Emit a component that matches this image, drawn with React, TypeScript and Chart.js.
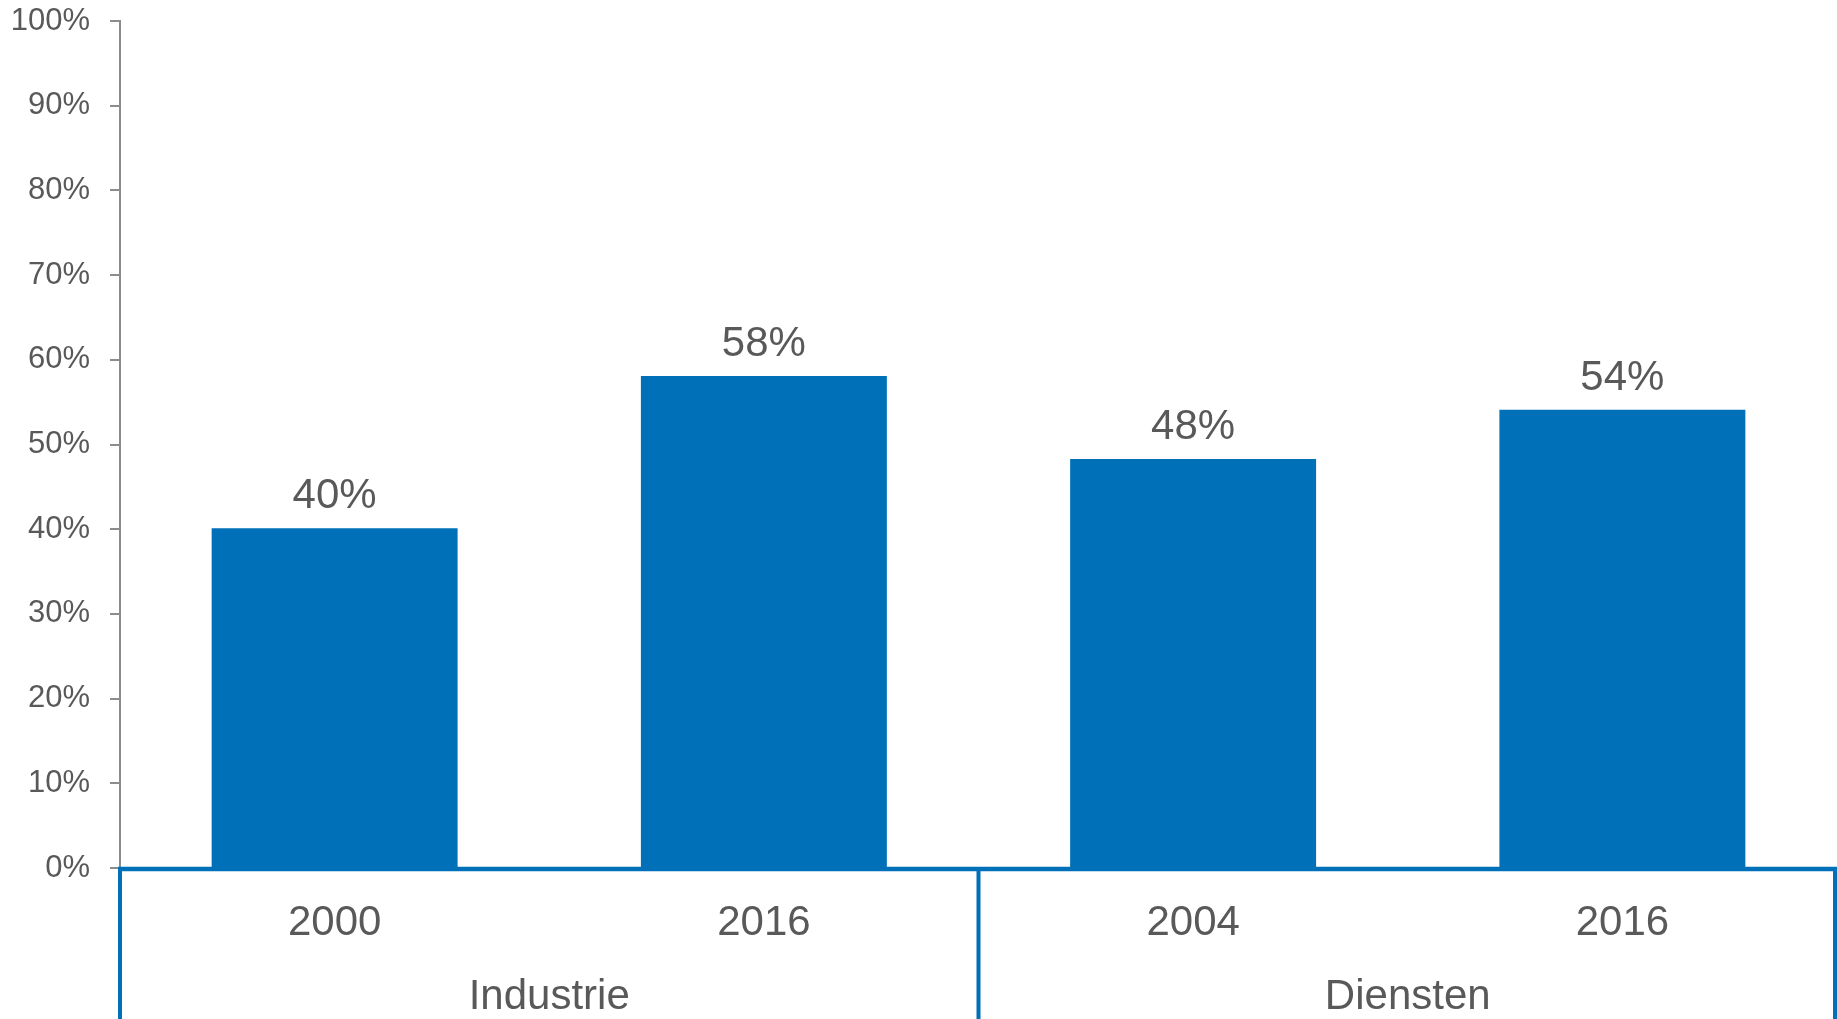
import React, { useEffect, useRef } from "react";
import { Chart, registerables } from "chart.js";

Chart.register(...registerables);

const years: string[] = ["2000", "2016", "2004", "2016"];
const groups: string[] = ["Industrie", "Diensten"];
const shares: number[] = [40.1, 58.1, 48.3, 54.1];
const yTicksMax = 100;
const yTicksStep = 10;

const BLUE = "#0070B8";
const TEXT = "#595959";
const GRAY = "#8C8C8C";
const FONT = "'Liberation Sans', Arial, sans-serif";

const overlayPlugin = {
  id: "overlay",
  afterDatasetsDraw(chart: any) {
    const ctx = chart.ctx;
    const area = chart.chartArea;
    const meta = chart.getDatasetMeta(0);
    ctx.save();
    // data labels
    ctx.font = `42px ${FONT}`;
    ctx.fillStyle = TEXT;
    ctx.textAlign = "center";
    ctx.textBaseline = "alphabetic";
    meta.data.forEach((bar: any, i: number) => {
      ctx.fillText(`${Math.round(shares[i])}%`, bar.x, bar.y - 20);
    });
    // baseline and group box lines
    ctx.strokeStyle = BLUE;
    ctx.lineWidth = 4.5;
    ctx.beginPath();
    ctx.moveTo(area.left - 2, area.bottom + 1);
    ctx.lineTo(chart.width, area.bottom + 1);
    ctx.stroke();
    const x = chart.scales.x;
    const perGroup = years.length / groups.length;
    ctx.lineWidth = 4;
    for (let g = 0; g <= groups.length; g++) {
      let px: number;
      if (g === 0) px = area.left;
      else if (g === groups.length) px = Math.min(area.right, chart.width) - 2;
      else {
        px = (x.getPixelForValue(g * perGroup - 1) + x.getPixelForValue(g * perGroup)) / 2;
      }
      ctx.beginPath();
      ctx.moveTo(px, area.bottom);
      ctx.lineTo(px, chart.height);
      ctx.stroke();
    }
    ctx.restore();
  },
};

export default function App() {
  const canvasRef = useRef<HTMLCanvasElement | null>(null);

  useEffect(() => {
    if (!canvasRef.current) return;
    const chart = new Chart(canvasRef.current, {
      type: "bar",
      data: {
        labels: years,
        datasets: [
          {
            data: shares,
            backgroundColor: BLUE,
            borderWidth: 0,
            barPercentage: 0.573,
            categoryPercentage: 1,
            xAxisID: "x",
          },
        ],
      },
      options: {
        animation: false,
        responsive: true,
        maintainAspectRatio: false,
        layout: { padding: { top: 21, right: 0, bottom: 0, left: 0 } },
        plugins: {
          legend: { display: false },
          tooltip: { enabled: false },
        },
        scales: {
          y: {
            min: 0,
            max: yTicksMax,
            afterFit: (s: any) => {
              s.width = 120;
              s.paddingTop = 0;
              s.paddingBottom = 0;
            },
            ticks: {
              stepSize: yTicksStep,
              padding: 20,
              color: TEXT,
              font: { family: FONT, size: 31 },
              callback: (v: any) => `${v}%`,
            },
            grid: {
              display: true,
              drawOnChartArea: false,
              drawTicks: true,
              tickLength: 10,
              color: GRAY,
              lineWidth: 2,
            },
            border: { display: true, color: GRAY, width: 2 },
          },
          x: {
            type: "category",
            position: "bottom",
            offset: true,
            afterFit: (s: any) => {
              s.height = 100;
            },
            ticks: {
              padding: 30,
              color: TEXT,
              font: { family: FONT, size: 42, lineHeight: 1.2 },
              maxRotation: 0,
              autoSkip: false,
            },
            grid: { display: false, drawTicks: false },
            border: { display: false },
          },
          x2: {
            type: "category",
            position: "bottom",
            labels: groups,
            offset: true,
            afterFit: (s: any) => {
              s.height = 51;
            },
            ticks: {
              padding: 4,
              color: TEXT,
              font: { family: FONT, size: 42, lineHeight: 1.2 },
              maxRotation: 0,
              autoSkip: false,
            },
            grid: { display: false, drawTicks: false },
            border: { display: false },
          },
        },
      },
      plugins: [overlayPlugin],
    });
    return () => chart.destroy();
  }, []);

  return (
    <div
      style={{
        position: "fixed",
        left: 0,
        top: 0,
        width: "1837px",
        height: "1019px",
        background: "#fff",
      }}
    >
      <canvas ref={canvasRef} />
    </div>
  );
}
